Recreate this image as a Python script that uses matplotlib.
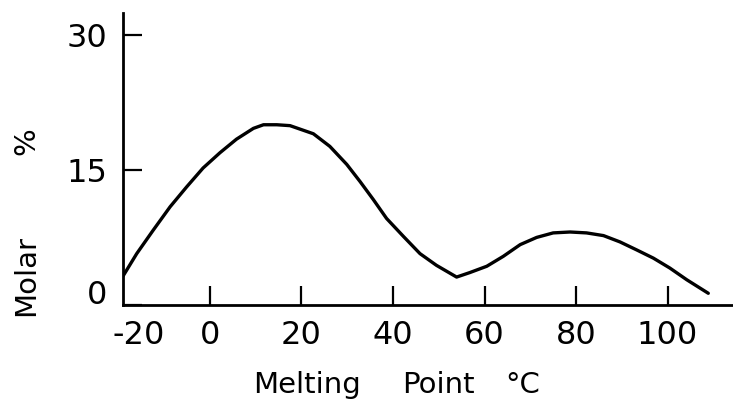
import numpy as np
import matplotlib.pyplot as plt
import matplotlib.transforms as mtransforms

# curve (melting point in C, molar %)
temp = [-19, -16.0, -12.4, -8.7, -5.1, -1.5, 2.2, 5.8, 9.5, 11.7, 14.6, 17.5,
        22.6, 26.2, 29.9, 32.8, 35.7, 38.6, 42.3, 45.9, 49.5, 53.9, 56.8,
        60.5, 64.1, 67.8, 71.4, 75.0, 78.7, 82.3, 86.0, 89.6, 93.3, 96.9,
        100.5, 104.2, 108.9]
molar = [3.2, 5.7, 8.3, 10.9, 13.1, 15.2, 16.9, 18.4, 19.6, 20.0, 20.0, 19.9,
         19.0, 17.6, 15.6, 13.7, 11.7, 9.6, 7.6, 5.7, 4.4, 3.1, 3.6,
         4.3, 5.4, 6.7, 7.5, 8.0, 8.1, 8.0, 7.7, 7.0, 6.1, 5.2,
         4.1, 2.8, 1.3]

xticks = [0, 20, 40, 60, 80, 100]
yticks = [0, 15, 30]

fig = plt.figure(figsize=(7.33, 4.13), dpi=100)
ax = fig.add_axes([123/733, 1 - 305/413, 1 - 123/733, (305 - 13)/413])

ax.plot(temp, molar, color='black', lw=2.4, solid_capstyle='round', solid_joinstyle='round')

ax.set_xlim(-19, 114.3)
ax.set_ylim(0, 32.4)

for s in ['top', 'right']:
    ax.spines[s].set_visible(False)
for s in ['left', 'bottom']:
    ax.spines[s].set_linewidth(2.0)

ax.set_xticks(xticks)
ax.set_xticklabels([str(t) for t in xticks])
ax.set_yticks(yticks)
ax.set_yticklabels([str(t) for t in yticks])
ax.tick_params(direction='in', length=14, width=1.6, labelsize=23, pad=11)

# -20 label sits at the left spine
ax.text(16/610, 0, '-20',
        transform=ax.transAxes + mtransforms.ScaledTranslation(0, -0.31, fig.dpi_scale_trans),
        ha='center', va='center', fontsize=23)

# the 0 on the y axis is drawn a bit above the spine
lab0 = ax.get_yticklabels()[0]
lab0.set_transform(lab0.get_transform() + mtransforms.ScaledTranslation(0, 0.13, fig.dpi_scale_trans))

# axis titles, widely spaced lettering as in the original
yb = 1 - 393/413
fig.text(307/733, yb, 'Melting', ha='center', va='baseline', fontsize=21)
fig.text(438/733, yb, 'Point', ha='center', va='baseline', fontsize=21)
fig.text(523/733, yb, '°C', ha='center', va='baseline', fontsize=21)

fig.text(26/733, 1 - 275/413, 'Molar', rotation=90, ha='center', va='center', fontsize=21)
fig.text(26/733, 1 - 141/413, '%', rotation=90, ha='center', va='center', fontsize=21)

fig.savefig('out.png', dpi=100)
